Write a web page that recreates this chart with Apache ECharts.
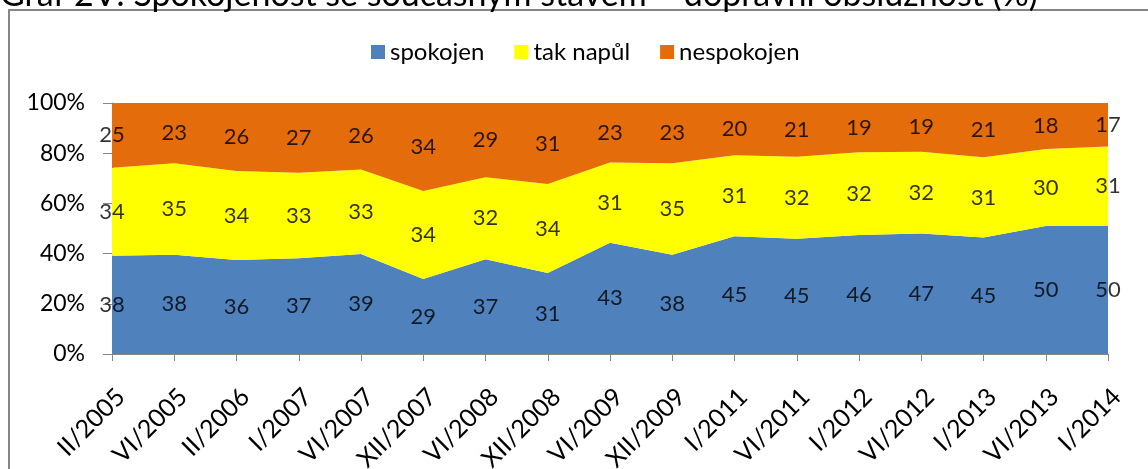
<!DOCTYPE html>
<html>
<head>
<meta charset="utf-8">
<script src="https://cdn.jsdelivr.net/npm/echarts@6/dist/echarts.min.js"></script>
<style>
  html, body { margin: 0; padding: 0; background: #fff; }
  #chart { width: 1148px; height: 469px; }
</style>
</head>
<body>
<div id="chart"></div>
<script>
// období šetření
const categories = ['II/2005', 'VI/2005', 'II/2006', 'I/2007', 'VI/2007', 'XII/2007', 'VI/2008', 'XII/2008',
  'VI/2009', 'XII/2009', 'I/2011', 'VI/2011', 'I/2012', 'VI/2012', 'I/2013', 'VI/2013', 'I/2014']
const spokojen = [38, 38, 36, 37, 39, 29, 37, 31, 43, 38, 45, 45, 46, 47, 45, 50, 50]
const takNapul = [34, 35, 34, 33, 33, 34, 32, 34, 31, 35, 31, 32, 32, 32, 31, 30, 31]
const nespokojen = [25, 23, 26, 27, 26, 34, 29, 31, 23, 23, 20, 21, 19, 19, 21, 18, 17]
const yTicks = [0, 20, 40, 60, 80, 100]

const seriesNames = ['spokojen', 'tak napůl', 'nespokojen']
const seriesData = [spokojen, takNapul, nespokojen]
const colors = ['#4F81BD', '#FFFF00', '#E46C0A']
const font = 'Lato, "Open Sans", sans-serif'

// graf je 100% skládaný -> přepočet na podíly
const totals = categories.map((c, i) => seriesData.reduce((s, arr) => s + arr[i], 0))
const shares = seriesData.map(arr => arr.map((v, i) => v / totals[i] * 100))

// popisky uprostřed pásů
const labelPoints = seriesData.map((arr, k) => arr.map((v, i) => {
  let base = 0
  for (let j = 0; j < k; j++) base += shares[j][i]
  return { value: [i, base + shares[k][i] / 2], raw: v }
}))

const chart = echarts.init(document.getElementById('chart'))

const series = []
seriesNames.forEach((name, k) => {
  series.push({
    name: name,
    type: 'line',
    stack: 'total',
    data: shares[k],
    symbol: 'none',
    lineStyle: { width: 0 },
    areaStyle: { color: colors[k], opacity: 1 },
    itemStyle: { color: colors[k] },
    z: 2
  })
})
labelPoints.forEach(points => {
  series.push({
    type: 'scatter',
    data: points,
    symbolSize: 0,
    silent: true,
    z: 5,
    label: {
      show: true,
      position: 'inside',
      formatter: p => String(p.data.raw),
      color: '#000',
      fontSize: 22,
      fontFamily: font
    }
  })
})

chart.setOption({
  animation: false,
  graphic: [
    {
      type: 'rect',
      shape: { x: 9, y: 10, width: 1148, height: 480 },
      style: { fill: 'none', stroke: '#868686', lineWidth: 2 },
      silent: true
    },
    {
      type: 'text',
      left: 0,
      top: -22,
      style: {
        text: 'Graf 2V: Spokojenost se současným stavem – dopravní obslužnost (%)',
        fontSize: 34,
        fontFamily: font,
        fill: '#000'
      },
      silent: true
    }
  ],
  legend: {
    data: seriesNames,
    left: 366,
    top: 35,
    itemWidth: 14,
    itemHeight: 14,
    itemGap: 30,
    icon: 'rect',
    textStyle: { fontSize: 24, fontFamily: font, color: '#000' }
  },
  grid: {
    left: 112,
    right: 40,
    top: 103,
    bottom: 115,
    containLabel: false,
    outerBoundsMode: 'none'
  },
  xAxis: {
    type: 'category',
    data: categories,
    boundaryGap: false,
    axisLine: { lineStyle: { color: '#868686', width: 1 } },
    axisTick: { show: true, length: 7, lineStyle: { color: '#868686' } },
    axisLabel: {
      rotate: 45,
      interval: 0,
      margin: 30,
      verticalAlign: 'top',
      color: '#000',
      fontSize: 25,
      fontFamily: font
    },
    splitLine: { show: false }
  },
  yAxis: {
    type: 'value',
    min: yTicks[0],
    max: yTicks[yTicks.length - 1],
    interval: yTicks[1] - yTicks[0],
    axisLine: { show: true, lineStyle: { color: '#868686', width: 1 } },
    axisTick: { show: true, length: 9, lineStyle: { color: '#868686' } },
    axisLabel: {
      formatter: '{value}%',
      margin: 27,
      color: '#000',
      fontSize: 23,
      fontFamily: font
    },
    splitLine: { show: false }
  },
  series: series
})
</script>
</body>
</html>
